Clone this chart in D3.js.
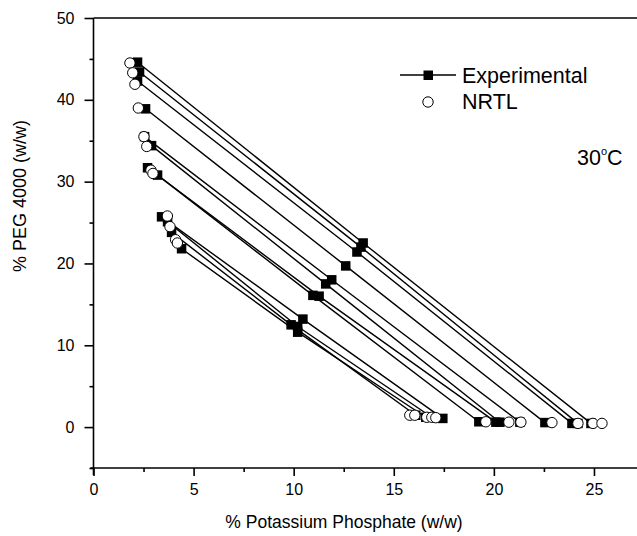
<!DOCTYPE html>
<html><head><meta charset="utf-8">
<script src="https://cdn.jsdelivr.net/npm/d3@7"></script>
<style>body{margin:0;background:#fff}svg{display:block}</style>
</head><body>
<script>
// Experimental tie lines: PEG-rich (top), feed (mid), salt-rich (bottom) compositions [salt %, PEG %]
const expTop = [[2.2,44.6],[2.3,43.4],[2.2,42.3],[2.6,38.9],[2.55,35.5],[2.9,34.4],[2.7,31.7],[3.2,30.8],[3.4,25.7],[3.7,25.1],[3.9,23.8],[4.4,21.8]];
const expMid = [[13.47,22.5],[13.36,22.0],[13.16,21.4],[12.6,19.7],[11.9,18.0],[11.6,17.5],[11.27,16.0],[10.96,16.1],[10.46,13.2],[10.2,12.3],[9.87,12.5],[10.2,11.6]];
const expBot = [[24.85,0.45],[24.2,0.45],[23.9,0.45],[22.55,0.55],[21.3,0.6],[20.3,0.6],[20.1,0.6],[19.25,0.65],[17.45,1.06],[16.9,1.2],[16.1,1.45],[16.6,1.2]];
// NRTL calculated compositions
const nrtlTop = [[1.82,44.5],[1.96,43.3],[2.07,41.9],[2.24,39.0],[2.52,35.5],[2.66,34.3],[2.87,31.4],[2.97,31.0],[3.69,25.8],[3.82,24.5],[4.1,22.9],[4.19,22.5]];
const nrtlBot = [[15.8,1.45],[16.05,1.45],[16.65,1.2],[16.9,1.2],[17.1,1.15],[19.6,0.65],[20.75,0.6],[21.35,0.6],[22.9,0.55],[24.2,0.45],[24.95,0.45],[25.4,0.45]];
const xTicks = [0,5,10,15,20,25];
const yTicks = [0,10,20,30,40,50];

const W = 637, H = 536;
const svg = d3.select("body").append("svg").attr("width", W).attr("height", H);
const x = d3.scaleLinear().domain([0, 27.15]).range([93.5, 637]);
const y = d3.scaleLinear().domain([-5, 50]).range([468, 18]);
const font = "Liberation Sans, Arial, sans-serif";

// axes
const xMinor = d3.range(0, 27, 2.5).filter(v => !xTicks.includes(v));
const yMinor = d3.range(-5, 50, 5).filter(v => !yTicks.includes(v));
const ax = svg.append("g").attr("transform", `translate(0,${y(-5)})`)
  .call(d3.axisBottom(x).tickValues(xTicks).tickSize(8).tickPadding(8).tickFormat(d3.format("d")));
ax.select(".domain").attr("d", `M${x(0)-3},0H${W}`);
svg.append("g").attr("transform", `translate(0,${y(-5)})`)
  .call(d3.axisBottom(x).tickValues(xMinor).tickSize(4).tickFormat(""))
  .select(".domain").remove();
const ay = svg.append("g").attr("transform", `translate(${x(0)},0)`)
  .call(d3.axisLeft(y).tickValues(yTicks).tickSize(9).tickPadding(10).tickFormat(d3.format("d")));
ay.select(".domain").attr("d", `M0,${y(50)}V${y(-5)+7}`);
svg.append("g").attr("transform", `translate(${x(0)},0)`)
  .call(d3.axisLeft(y).tickValues(yMinor).tickSize(4).tickFormat(""))
  .select(".domain").remove();
svg.selectAll(".tick text").attr("font-family", font).attr("font-size", 16).attr("fill", "#000");
svg.selectAll(".domain, .tick line").attr("stroke", "#000").attr("stroke-width", 1.6);
// top frame
svg.append("line").attr("x1", x(0)).attr("x2", W).attr("y1", y(50)).attr("y2", y(50))
  .attr("stroke", "#000").attr("stroke-width", 1.6);

// axis titles
svg.append("text").attr("x", 344).attr("y", 528).attr("text-anchor", "middle")
  .attr("font-family", font).attr("font-size", 17.5).text("% Potassium Phosphate (w/w)");
svg.append("text").attr("transform", `translate(26,196) rotate(-90)`)
  .attr("text-anchor", "middle").attr("font-family", font).attr("font-size", 18)
  .text("% PEG 4000 (w/w)");

// tie lines
const g = svg.append("g");
expTop.forEach((t, i) => {
  g.append("path").attr("d", d3.line().x(d => x(d[0])).y(d => y(d[1]))([t, expMid[i], expBot[i]]))
    .attr("fill", "none").attr("stroke", "#000").attr("stroke-width", 1.4);
});
// experimental squares
const sq = expTop.concat(expMid, expBot);
const s = 9.5;
g.selectAll("rect.e").data(sq).join("rect").attr("class", "e")
  .attr("x", d => x(d[0]) - s/2).attr("y", d => y(d[1]) - s/2)
  .attr("width", s).attr("height", s).attr("fill", "#000");
// NRTL circles
const circ = nrtlTop.concat(nrtlBot);
g.selectAll("circle.n").data(circ).join("circle").attr("class", "n")
  .attr("cx", d => x(d[0])).attr("cy", d => y(d[1])).attr("r", 5.2)
  .attr("fill", "#fff").attr("stroke", "#000").attr("stroke-width", 1);

// legend
svg.append("line").attr("x1", 400).attr("x2", 456).attr("y1", 75).attr("y2", 75).attr("stroke", "#000").attr("stroke-width", 1.4);
svg.append("rect").attr("x", 423.5).attr("y", 70.5).attr("width", 9.5).attr("height", 9.5).attr("fill", "#000");
svg.append("text").attr("x", 462).attr("y", 83).attr("font-family", font).attr("font-size", 21.5).text("Experimental");
svg.append("circle").attr("cx", 428).attr("cy", 102).attr("r", 5.2).attr("fill", "#fff").attr("stroke", "#000");
svg.append("text").attr("x", 462).attr("y", 109).attr("font-family", font).attr("font-size", 21.5).text("NRTL");
const tt = svg.append("text").attr("x", 577).attr("y", 165).attr("font-family", font).attr("font-size", 21.5);
tt.append("tspan").text("30");
tt.append("tspan").attr("dy", -10).attr("font-size", 11).text("o");
tt.append("tspan").attr("dy", 10).text("C");
</script>
</body></html>
